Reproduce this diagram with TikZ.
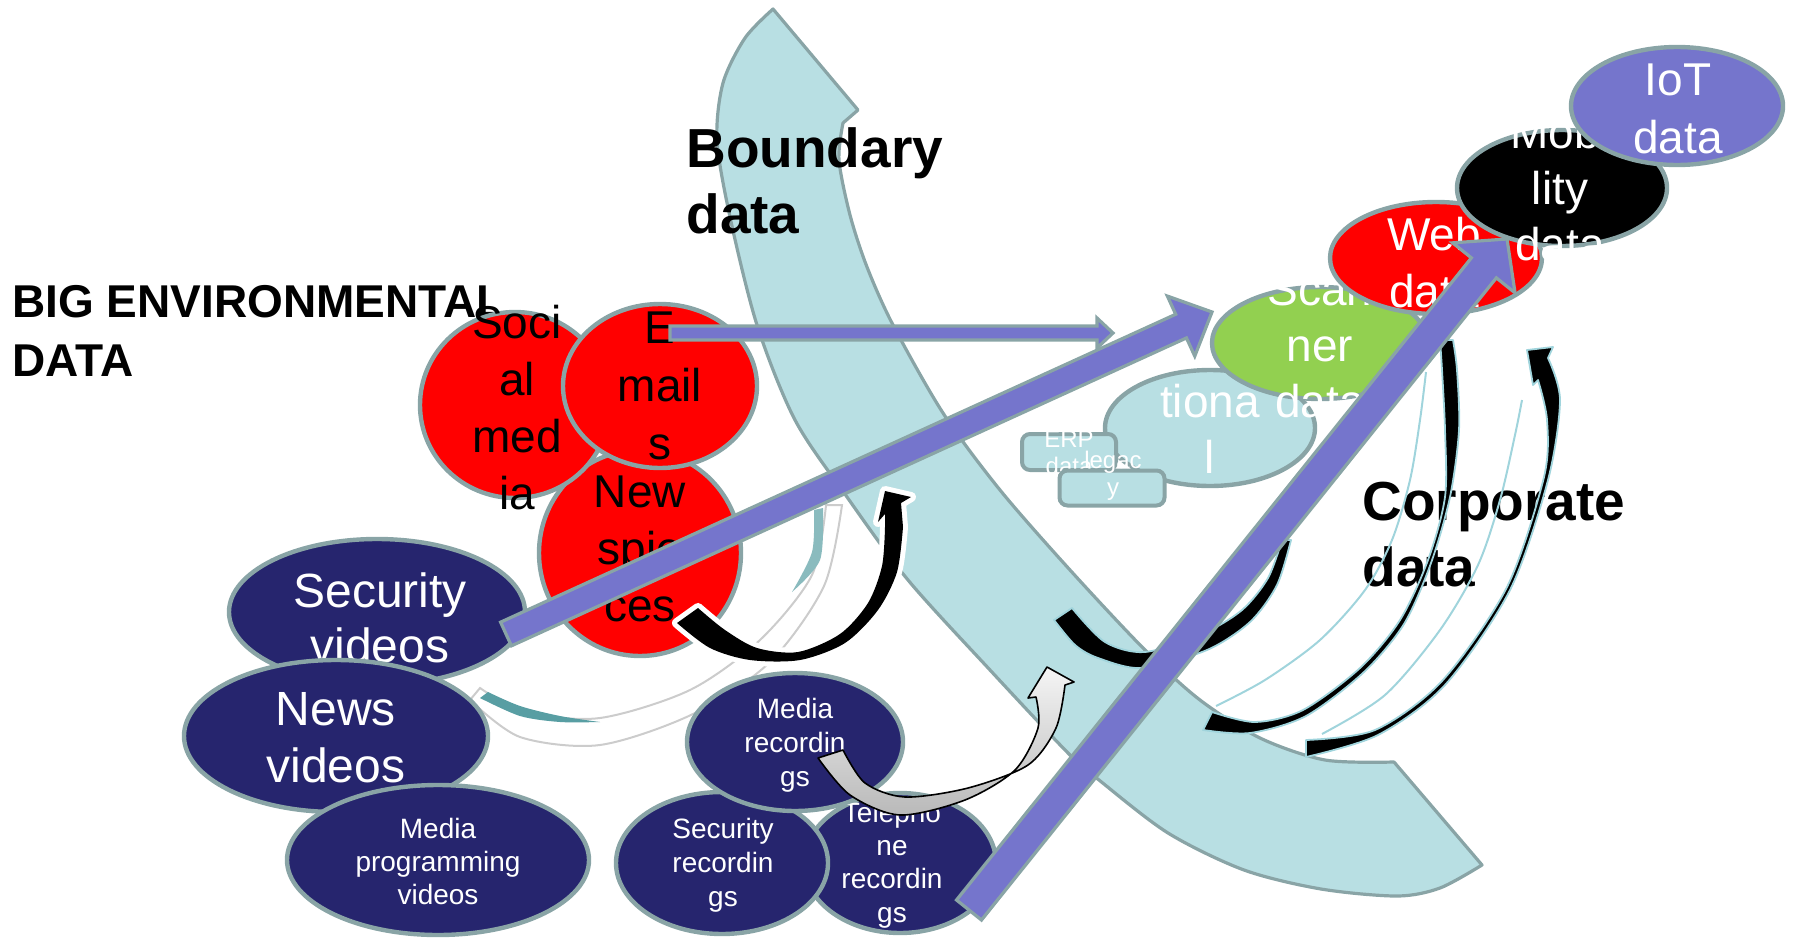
\documentclass[tikz,border=0pt]{standalone}
\usepackage{fontspec}
\setmainfont{Liberation Sans}
\usetikzlibrary{calc,shapes.geometric}
\definecolor{rim}{RGB}{137,164,166}
\definecolor{lblue}{RGB}{184,223,227}
\definecolor{navy}{RGB}{38,37,110}
\definecolor{purp}{RGB}{117,117,204}
\definecolor{grn}{RGB}{146,208,80}
\definecolor{tealc}{RGB}{88,158,163}
\definecolor{edgeblue}{RGB}{160,212,220}
\newcommand\ml[2]{\vtop{\baselineskip=#1\relax\lineskiplimit=-\maxdimen\halign{\hfil##\hfil\cr#2\crcr}}}
\newcommand\mlL[2]{\vtop{\baselineskip=#1\relax\lineskiplimit=-\maxdimen\halign{##\hfil\cr#2\crcr}}}
\newcommand\fatarrow[6]{%
  \coordinate (faH) at ($(#3)!#6!(#2)$);
  \filldraw[#1] ($(#2)!#4!90:(#3)$) -- ($(faH)!#4!90:(#3)$) -- ($(faH)!#5!90:(#3)$) -- (#3)
    -- ($(faH)!#5!-90:(#3)$) -- ($(faH)!#4!-90:(#3)$) -- ($(#2)!#4!-90:(#3)$) -- cycle;}
\begin{document}
\begin{tikzpicture}[x=0.5pt,y=-0.5pt,
  blob/.style={ellipse, draw=rim, line width=2.2pt, inner sep=0pt},
  redblob/.style={blob, fill=red},
  navyblob/.style={blob, fill=navy},
  boxshape/.style={rectangle, rounded corners=4pt, draw=rim, line width=2pt, fill=lblue, inner sep=0pt},
  t23/.style={inner sep=0pt, anchor=base, font=\fontsize{23pt}{28pt}\selectfont},
  t24/.style={inner sep=0pt, anchor=base, font=\fontsize{24pt}{28pt}\selectfont},
  t14/.style={inner sep=0pt, anchor=base, font=\fontsize{14pt}{17pt}\selectfont},
  t12/.style={inner sep=0pt, anchor=base, font=\fontsize{12pt}{14pt}\selectfont},
  boldbig/.style={inner sep=0pt, anchor=base west, font=\bfseries\fontsize{27.5pt}{33pt}\selectfont},
  boldmid/.style={inner sep=0pt, anchor=base west, font=\bfseries\fontsize{23pt}{29pt}\selectfont},
  fatarr/.style={fill=purp, draw=rim, line width=1.6pt, line join=miter},
  arcstyle/.style={fill=black, draw=edgeblue, line width=0.9pt, line join=round},
  ribbonedge/.style={draw=edgeblue, line width=1pt}]
\useasboundingbox (0,0) rectangle (1799,942);

% big boundary arrow
\filldraw[fill=lblue, draw=rim, line width=1.6pt, line join=round]
  (773,9) -- (858,110) -- (843,123)
  -- plot[smooth] coordinates {(843,123) (839,160) (850,215) (867,267) (893,325) (943,413) (1000,490) (1070,570) (1145,650) (1200,700) (1260,738) (1325,760) (1394,762)}
  -- (1482,865)
  -- plot[smooth] coordinates {(1482,865) (1440,888) (1397,896) (1321,889) (1244,870) (1168,833) (1099,780) (1068,753) (990,670) (908,580) (847,497) (795,420) (757,325) (730,217) (717,140) (723,83) (745,38) (773,9)}
  -- cycle;

\node[boldbig] (boundary) at (686,167) {\mlL{33pt}{Boundary\cr data}};
\node[boldmid] (bigenv) at (12,317) {\mlL{29.5pt}{BIG ENVIRONMENTAL\cr DATA}};

% white/teal curved ribbon
\path[fill=white, draw=gray!40, line width=1pt]
  plot[smooth] coordinates {(470,700) (520,737) (600,745) (693,714) (770,662) (824,586) (842,505)}
  -- plot[smooth] coordinates {(826,505) (812,575) (760,640) (690,690) (600,718) (525,712) (480,688)} -- cycle;
\fill[tealc] plot[smooth] coordinates {(480,698) (520,716) (560,722) (600,722)}
  -- plot[smooth] coordinates {(600,722) (560,716) (520,706) (488,692)} -- cycle;
\fill[tealc!70] plot[smooth] coordinates {(823,508) (820,560) (792,592)}
  -- plot[smooth] coordinates {(792,592) (812,552) (814,510)} -- cycle;

% red circles
\node[redblob, minimum width=101pt, minimum height=103pt] (news) at (640,553) {};
\node[t23] (news-t) at (640,507) {\ml{28.5pt}{New\cr spie\cr ces}};
\node[redblob, minimum width=95pt, minimum height=93pt] (social) at (515,405) {};
\node[t23] (social-t) at (517,338) {\ml{28.5pt}{Soci\cr al\cr med\cr ia}};
\node[redblob, minimum width=97pt, minimum height=82pt] (emails) at (660,386) {};
\node[t23] (emails-t) at (660,343) {\ml{29pt}{E\cr mail\cr s}};

% navy video ellipses
\node[navyblob, minimum width=148pt, minimum height=73pt] (secvid) at (377,612) {};
\node[t24, text=white] (secvid-t) at (380,607) {\ml{27.5pt}{Security\cr videos}};
\node[navyblob, minimum width=152pt, minimum height=76pt] (newsvid) at (336,736) {};
\node[t24, text=white] (newsvid-t) at (336,725) {\ml{28.5pt}{News\cr videos}};
\node[navyblob, minimum width=151pt, minimum height=75pt] (mediaprog) at (438,860) {};
\node[t14, text=white] (mediaprog-t) at (438,838) {\ml{16.5pt}{Media\cr programming\cr videos}};

% black curved arrow with white rim
\path[preaction={draw=white, line width=5pt, line join=round}, fill=black]
  plot[smooth] coordinates {(677,623) (710,648) (750,660) (800,660) (845,643) (878,610) (897,572) (903,527)}
  -- (901,503) -- (911,497) -- (885,491) -- (878,522) -- (885,514)
  -- plot[smooth] coordinates {(885,527) (882,566) (868,603) (840,634) (798,652) (757,648) (725,630) (698,608)} -- cycle;

% transactional, ERP, legacy
\node[blob, fill=lblue, minimum width=105pt, minimum height=58pt] (trans) at (1210,428) {};
\node[t23, text=white] (trans-t) at (1210,417) {\ml{28pt}{tiona\cr l}};
\node[boxshape, minimum width=47pt, minimum height=18pt] (erp) at (1069,452) {};
\node[t12, text=white] (erp-t) at (1069,447) {\ml{13.5pt}{ERP\cr data}};
\node[boxshape, minimum width=52.5pt, minimum height=17.5pt] (legacy) at (1112,488) {};
\node[t12, text=white] (legacy-t) at (1113,468) {\ml{13.5pt}{legac\cr y}};

% right ellipses
\node[blob, fill=grn, minimum width=108pt, minimum height=56pt] (scanner) at (1320,343) {};
\node[t23, text=white] (scanner-t) at (1320,305) {\ml{28pt}{Scan\cr ner\cr data}};
\node[redblob, minimum width=106pt, minimum height=56pt] (web) at (1436,258) {};
\node[t23, text=white] (web-t) at (1434,250) {\ml{28.5pt}{Web\cr data}};
\node[blob, fill=black, minimum width=105pt, minimum height=58pt] (mobility) at (1562,188) {};
\node[t23, text=white] (mobility-t) at (1560,148) {\ml{28pt}{Mobi\cr lity\cr data}};
\node[blob, fill=purp, minimum width=106pt, minimum height=59pt] (iot) at (1677,106) {};
\node[t23, text=white] (iot-t) at (1678,95) {\ml{29pt}{IoT\cr data}};

\node[boldbig] (corporate) at (1362,520) {\mlL{33pt}{Corporate\cr data}};

% right black arcs
\path[arcstyle] plot[smooth] coordinates {(1054,620) (1075,645) (1098,658) (1142,668) (1207,650) (1250,622) (1277,585) (1291,540)}
  -- plot[smooth] coordinates {(1282,540) (1268,578) (1242,610) (1202,634) (1145,652) (1105,642) (1072,608)} -- cycle;
\path[ribbonedge] plot[smooth] coordinates {(1216,706) (1265,680) (1320,640) (1365,590) (1392,540) (1410,480) (1420,420) (1426,372)};
\path[arcstyle] plot[smooth] coordinates {(1203,730) (1250,733) (1306,716) (1364,672) (1404,624) (1431,563) (1450,497) (1459,430) (1457,370) (1453,340)}
  -- plot[smooth] coordinates {(1440,340) (1442,370) (1445,430) (1445,497) (1428,560) (1400,620) (1360,668) (1303,710) (1255,722) (1212,712)} -- cycle;
\path[ribbonedge] plot[smooth] coordinates {(1322,734) (1385,695) (1440,630) (1478,565) (1500,500) (1515,435) (1522,400)};
\path[arcstyle] plot[smooth] coordinates {(1306,757) (1378,735) (1445,685) (1510,590) (1548,480) (1560,400) (1548,358)}
  -- (1553,347) -- (1527,350) -- (1533,385) -- (1538,380)
  -- plot[smooth] coordinates {(1538,380) (1547,420) (1544,477) (1507,587) (1442,681) (1375,730) (1306,740)} -- cycle;

% recordings
\node[navyblob, minimum width=96pt, minimum height=70pt] (telrec) at (900,863) {};
\node[t14, text=white] (telrec-t) at (892,822) {\ml{16.7pt}{Telepho\cr ne\cr recordin\cr gs}};
\node[navyblob, minimum width=106pt, minimum height=71pt] (secrec) at (722,863) {};
\node[t14, text=white] (secrec-t) at (723,838) {\ml{17pt}{Security\cr recordin\cr gs}};
\node[navyblob, minimum width=108pt, minimum height=69pt] (mediarec) at (795,742) {};
\node[t14, text=white] (mediarec-t) at (795,718) {\ml{17pt}{Media\cr recordin\cr gs}};

% gray curved arrow
\path[top color=gray!8, bottom color=gray!55, draw=black, line width=0.8pt, line join=round]
  plot[smooth] coordinates {(818,758) (850,795) (900,815) (965,800) (1015,770) (1038,728) (1036,697)}
  -- (1028,698) -- (1047,667) -- (1074,682) -- (1065,685)
  -- plot[smooth] coordinates {(1065,685) (1056,728) (1028,765) (968,788) (905,797) (865,783) (843,750)} -- cycle;

% purple arrows
\coordinate (a-tail) at (670,333); \coordinate (a-tip) at (1113,333);
\fatarrow{fatarr}{a-tail}{a-tip}{3.5pt}{7.5pt}{8pt}
\coordinate (b-tail) at (506,634); \coordinate (b-tip) at (1212,312);
\fatarrow{fatarr}{b-tail}{b-tip}{6.5pt}{16.5pt}{17pt}
\coordinate (c-tail) at (969,910); \coordinate (c-tip) at (1507,239);
\fatarrow{fatarr}{c-tail}{c-tip}{8pt}{20pt}{18.5pt}
\end{tikzpicture}
\end{document}
